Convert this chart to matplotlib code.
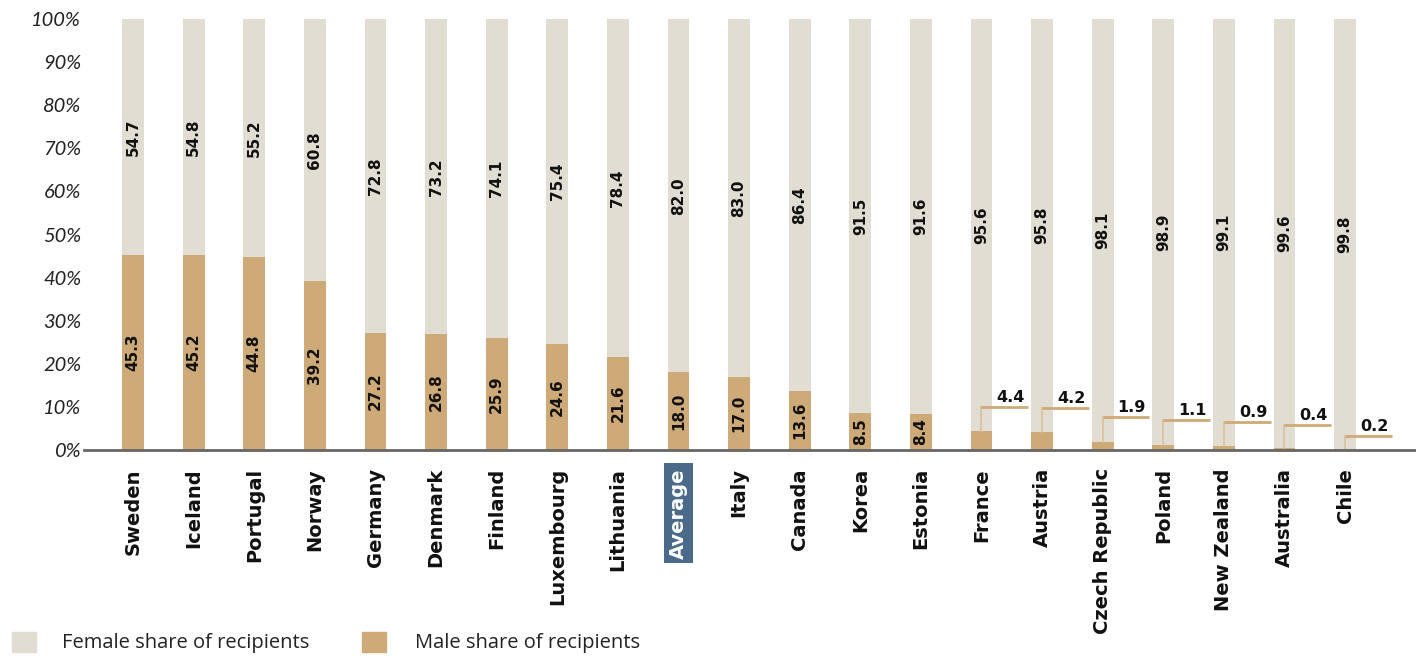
import matplotlib.pyplot as plt

countries = ["Sweden", "Iceland", "Portugal", "Norway", "Germany", "Denmark", "Finland",
             "Luxembourg", "Lithuania", "Average", "Italy", "Canada", "Korea", "Estonia",
             "France", "Austria", "Czech Republic", "Poland", "New Zealand", "Australia", "Chile"]
female = [54.7, 54.8, 55.2, 60.8, 72.8, 73.2, 74.1, 75.4, 78.4, 82.0, 83.0, 86.4, 91.5, 91.6,
          95.6, 95.8, 98.1, 98.9, 99.1, 99.6, 99.8]
male = [45.3, 45.2, 44.8, 39.2, 27.2, 26.8, 25.9, 24.6, 21.6, 18.0, 17.0, 13.6, 8.5, 8.4,
        4.4, 4.2, 1.9, 1.1, 0.9, 0.4, 0.2]
# height of the leader line for the small male shares (layout only)
callout_y = {"France": 10.0, "Austria": 9.7, "Czech Republic": 7.7, "Poland": 7.0,
             "New Zealand": 6.5, "Australia": 5.8, "Chile": 3.2}

c_female = "#e2ddd2"
c_male = "#cdaa78"
c_leader = "#d8c09a"

fig = plt.figure(figsize=(14.16, 6.56), dpi=100)
ax = fig.add_axes([84 / 1416, 1 - 450 / 656, 1 - 84 / 1416, 431 / 656])

x = list(range(len(countries)))
w = 0.36
ax.bar(x, male, width=w, color=c_male, zorder=2)
ax.bar(x, female, width=w, bottom=male, color=c_female, zorder=2)

lbl = dict(rotation=90, ha="center", va="center", fontsize=11, fontweight="bold",
           family="DejaVu Sans", color="#111111", zorder=4)
for i, name in enumerate(countries):
    ax.text(i, male[i] + female[i] / 2, f"{female[i]:.1f}", **lbl)
    if name in callout_y:
        yc = callout_y[name]
        ax.plot([i, i], [male[i], yc], color=c_leader, lw=1.2, zorder=3)
        ax.plot([i, i + 0.77], [yc, yc], color=c_male, lw=2, zorder=3, solid_capstyle="butt")
        ax.text(i + 0.48, yc + 0.4, f"{male[i]:.1f}", ha="center", va="bottom", fontsize=11.5,
                fontweight="bold", family="DejaVu Sans", color="#111111", zorder=4)
    else:
        ax.text(i, male[i] / 2, f"{male[i]:.1f}", **lbl)

ax.set_xlim(-0.81, 21.17)
ax.set_ylim(0, 100)
ax.set_yticks(range(0, 101, 10))
ax.set_yticklabels([f"{v}%" for v in range(0, 101, 10)], fontsize=14.5, fontstyle="italic",
                   family="Lato", color="#222222")
ax.tick_params(axis="y", length=0, pad=2)
ax.set_xticks(x)
ax.set_xticklabels(countries, rotation=90, fontsize=14, fontweight="bold",
                   family="DejaVu Sans", color="#111111", va="top")
ax.tick_params(axis="x", length=0, pad=13)
for t in ax.get_xticklabels():
    if t.get_text() == "Average":
        t.set_color("white")
        t.set_bbox(dict(facecolor="#4b6a8a", edgecolor="none", pad=3.5))

for s in ["top", "right", "left"]:
    ax.spines[s].set_visible(False)
ax.spines["bottom"].set_color("#666666")
ax.spines["bottom"].set_linewidth(2)
ax.spines["bottom"].set_zorder(5)

# legend along the bottom edge
fig.patches.append(plt.Rectangle((12 / 1416, 1 - 652 / 656), 24 / 1416, 20 / 656,
                                 transform=fig.transFigure, color=c_female))
fig.patches.append(plt.Rectangle((362 / 1416, 1 - 652 / 656), 24 / 1416, 20 / 656,
                                 transform=fig.transFigure, color=c_male))
fig.text(62 / 1416, 1 - 643 / 656, "Female share of recipients", fontsize=14.5, va="center",
         family="Open Sans", color="#222222")
fig.text(415 / 1416, 1 - 643 / 656, "Male share of recipients", fontsize=14.5, va="center",
         family="Open Sans", color="#222222")

fig.savefig("out.png", dpi=100)
